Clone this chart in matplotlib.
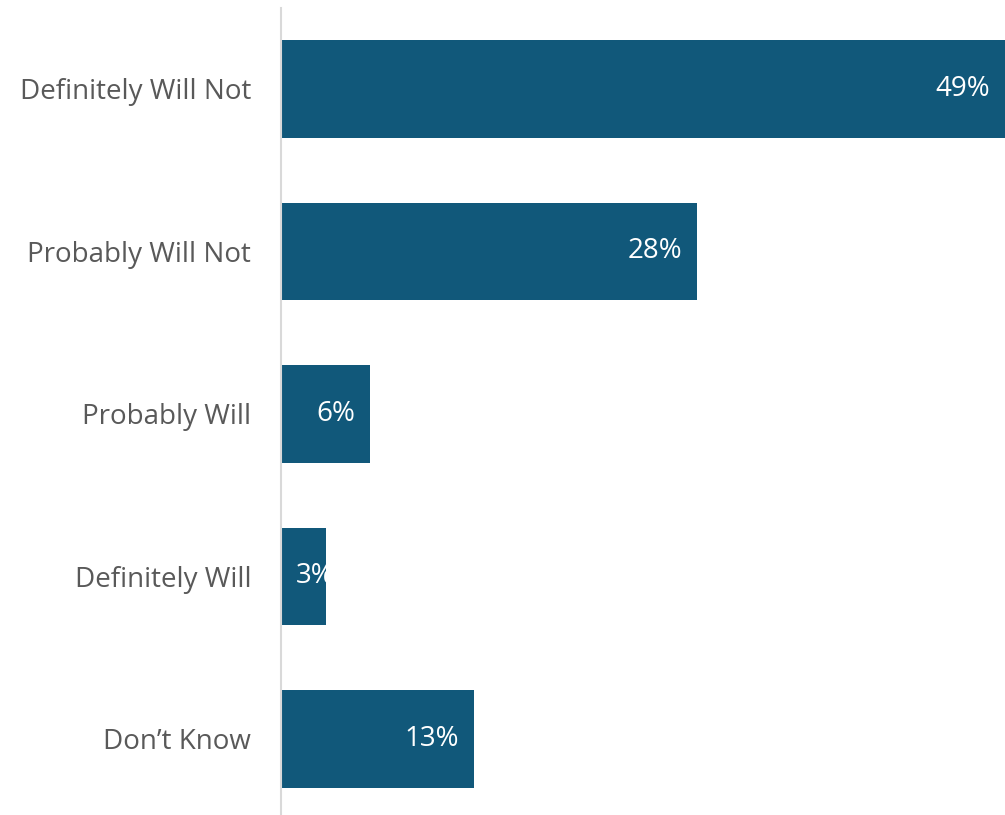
import matplotlib
matplotlib.use("Agg")
import matplotlib.pyplot as plt

categories = ["Definitely Will Not", "Probably Will Not", "Probably Will",
              "Definitely Will", "Don\u2019t Know"]
values = [49, 28, 6, 3, 13]

bar_color = "#11587a"
text_color = "#595959"

plt.rcParams["font.family"] = ["Open Sans", "DejaVu Sans"]

fig = plt.figure(figsize=(10.05, 8.15), dpi=100)
ax = fig.add_axes([281 / 1005, 0, 1 - 281 / 1005, 1 - 8 / 815])

y = range(len(categories))
ax.barh(y, values, height=0.6, color=bar_color)
ax.set_xlim(0, 48.75)
ax.set_ylim(4.468, -0.498)

ax.set_yticks(list(y))
ax.set_yticklabels(categories, fontsize=20, color=text_color)
ax.tick_params(axis="y", length=0, pad=21.5)
ax.set_xticks([])

for s in ["top", "right", "bottom"]:
    ax.spines[s].set_visible(False)
ax.spines["left"].set_color("#d9d9d9")
ax.spines["left"].set_linewidth(1.5)

# value labels sit inside the bar end; short bars push them off the axis
for i, v in enumerate(values):
    if v < 5:
        ax.annotate(f"{v}%", (0, i), xytext=(15, 0), textcoords="offset pixels",
                    ha="left", va="center", color="white", fontsize=20,
                    annotation_clip=False)
    else:
        ax.annotate(f"{v}%", (min(v, 48.75), i), xytext=(-15, 0),
                    textcoords="offset pixels", ha="right", va="center",
                    color="white", fontsize=20)

fig.savefig("out.png", dpi=100)
